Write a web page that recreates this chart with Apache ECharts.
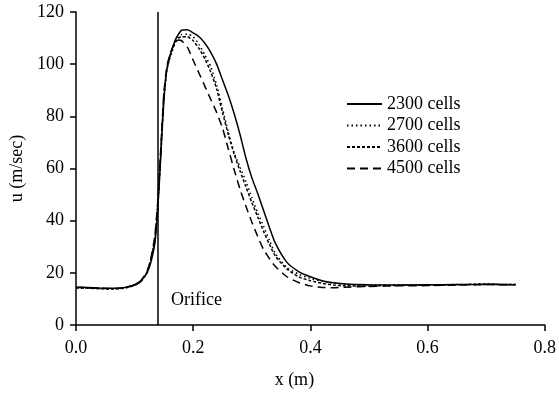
<!DOCTYPE html>
<html>
<head>
<meta charset="utf-8">
<script src="https://cdn.jsdelivr.net/npm/echarts@6/dist/echarts.min.js"></script>
<style>
  html, body { margin: 0; padding: 0; background: #fff; }
  #main { width: 559px; height: 394px; }
</style>
</head>
<body>
<div id="main"></div>
<script>
// x positions (m) shared by all runs
const xs = [0, 0.02, 0.04, 0.06, 0.08, 0.09, 0.10, 0.11, 0.12, 0.125,
  0.13, 0.135, 0.14, 0.145, 0.15, 0.155, 0.16, 0.165, 0.17, 0.175,
  0.18, 0.19, 0.20, 0.21, 0.22, 0.23, 0.24, 0.25, 0.26, 0.27,
  0.28, 0.29, 0.30, 0.31, 0.32, 0.33, 0.34, 0.36, 0.38, 0.40,
  0.42, 0.44, 0.46, 0.50, 0.55, 0.60, 0.65, 0.70, 0.75];

// u (m/sec) per mesh size
const cells2300 = [14.5, 14.4, 14.2, 14.1, 14.3, 14.8, 15.5, 16.8, 19.5, 22,
  26, 32, 46, 66, 86, 98, 103, 106.5, 109.5, 111.5,
  113, 113.2, 112, 110.5, 108, 104.5, 100, 94, 88, 81,
  73, 64, 56.5, 50.5, 44, 37.5, 31.5, 24, 20.5, 18.5,
  17, 16.2, 15.7, 15.4, 15.3, 15.4, 15.5, 15.6, 15.4];
const cells2700 = [14.3, 14.2, 14.0, 13.9, 14.1, 14.6, 15.3, 16.5, 19.5, 22.5,
  27, 33, 47, 67, 87, 97.5, 102, 105.5, 108.5, 110.5,
  111.3, 111.5, 110.5, 107.5, 103.5, 99, 92, 83, 74, 66,
  60.5, 55, 49, 43, 38, 32.5, 27.5, 22, 19.5, 17.8,
  16.8, 16, 15.5, 15.3, 15.3, 15.4, 15.5, 15.7, 15.6];
const cells3600 = [14.2, 14.1, 13.9, 13.8, 14.0, 14.5, 15.2, 16.5, 19.8, 23,
  27.5, 34, 48, 68, 88, 98, 102.5, 106, 108.5, 110,
  110.5, 110.5, 109, 106, 102, 97, 90.5, 81.5, 73, 65.5,
  59, 53, 47, 41.5, 36, 31, 26.5, 21.5, 18.5, 17,
  16, 15.3, 15, 15, 15.2, 15.3, 15.4, 15.6, 15.5];
const cells4500 = [14.4, 14.3, 14.1, 14.0, 14.2, 14.7, 15.4, 16.8, 20, 23,
  28, 35, 49, 69, 89, 99, 103.5, 106.5, 108.5, 109.3,
  109, 106.5, 101.5, 96.5, 91.5, 86.5, 81.5, 75.5, 67.5, 59.5,
  52, 45.5, 39.5, 34, 29, 25.5, 22.5, 18.5, 16.3, 15,
  14.4, 14.3, 14.5, 14.8, 15, 15.1, 15.3, 15.5, 15.4];

const seriesNames = ['2300 cells', '2700 cells', '3600 cells', '4500 cells'];
const orificeX = 0.145;
const orificeLabel = 'Orifice';

const FONT = '"Liberation Serif", "Times New Roman", serif';

const chartDom = document.getElementById('main');
const myChart = echarts.init(chartDom, null, { renderer: 'canvas' });

const pairs = ys => xs.map((x, i) => [x, ys[i]]);
const dashes = ['solid', [1.5, 3], [3, 2], [8, 5]];
const values = [cells2300, cells2700, cells3600, cells4500];

const series = values.map((ys, i) => ({
  name: seriesNames[i],
  type: 'line',
  data: pairs(ys),
  smooth: 0.2,
  symbol: 'none',
  lineStyle: { color: '#000', width: 1.5, type: dashes[i] },
  itemStyle: { color: '#000' },
  z: 3
}));

series[0].markLine = {
  silent: true,
  symbol: 'none',
  label: { show: false },
  lineStyle: { color: '#000', width: 1.5, type: 'solid' },
  data: [{ xAxis: orificeX }]
};

const option = {
  animation: false,
  backgroundColor: '#fff',
  textStyle: { fontFamily: FONT, color: '#000' },
  grid: { left: 76, right: 13, top: 12, bottom: 69 },
  legend: {
    orient: 'vertical',
    left: 341,
    top: 90,
    itemWidth: 35,
    itemHeight: 14,
    itemGap: 3.5,
    itemStyle: { opacity: 0 },
    textStyle: { fontFamily: FONT, fontSize: 18, color: '#000', lineHeight: 18 },
    data: seriesNames
  },
  xAxis: {
    type: 'value',
    min: 0, max: 0.8, interval: 0.2,
    name: 'x (m)',
    nameLocation: 'middle',
    nameGap: 46,
    nameTextStyle: { fontFamily: FONT, fontSize: 18, color: '#000', padding: [0, 32, 0, 0] },
    axisLine: { show: true, lineStyle: { color: '#000', width: 1.5 } },
    axisTick: { show: true, length: 6, lineStyle: { color: '#000', width: 1.5 } },
    axisLabel: { fontFamily: FONT, fontSize: 18, color: '#000', margin: 14,
      formatter: v => v.toFixed(1) },
    splitLine: { show: false }
  },
  yAxis: {
    type: 'value',
    min: 0, max: 120, interval: 20,
    name: 'u (m/sec)',
    nameLocation: 'middle',
    nameRotate: 90,
    nameGap: 49,
    nameTextStyle: { fontFamily: FONT, fontSize: 18, color: '#000' },
    axisLine: { show: true, lineStyle: { color: '#000', width: 1.5 } },
    axisTick: { show: true, length: 6, lineStyle: { color: '#000', width: 1.5 } },
    axisLabel: { fontFamily: FONT, fontSize: 18, color: '#000', margin: 12 },
    splitLine: { show: false }
  },
  series: series
};

myChart.setOption(option);

// place the orifice note just right of the orifice line, near the bottom
const p = myChart.convertToPixel({ gridIndex: 0 }, [orificeX, 9.6]);
myChart.setOption({
  graphic: [{
    type: 'text',
    x: p[0] + 10,
    y: p[1],
    style: { text: orificeLabel, font: '18px ' + FONT, fill: '#000', textVerticalAlign: 'middle' }
  }]
});
</script>
</body>
</html>
